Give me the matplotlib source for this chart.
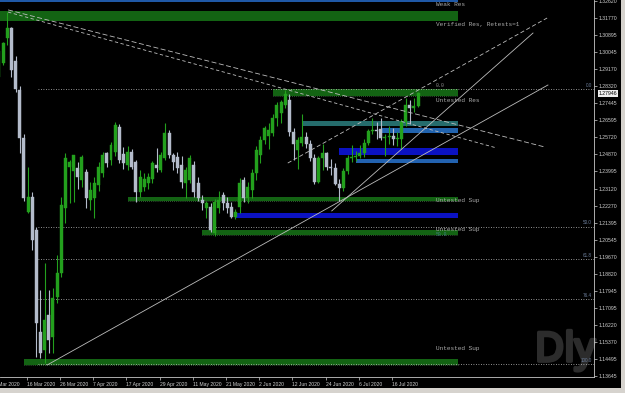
import numpy as np
import pandas as pd
import matplotlib
matplotlib.use("Agg")
import matplotlib.pyplot as plt
import matplotlib.transforms as mtransforms
import matplotlib.patheffects as pe
from matplotlib.patches import Rectangle

# ---- daily candles, 5 Mar 2020 .. 24 Jul 2020 (bar index 1 = 5 Mar) ----
dates = pd.bdate_range("2020-03-05", "2020-07-24")
opens = [1.2875, 1.2950, 1.3075, 1.3125, 1.2960, 1.2812, 1.2569, 1.2194, 1.2270, 1.2103,
         1.1587, 1.1496, 1.1673, 1.1562, 1.1764, 1.1886, 1.2215, 1.2420, 1.2400, 1.2417,
         1.2356, 1.2397, 1.2255, 1.2265, 1.2331, 1.2392, 1.2493, 1.2457, 1.2498, 1.2625,
         1.2490, 1.2432, 1.2498, 1.2447, 1.2296, 1.2320, 1.2340, 1.2360, 1.2432, 1.2407,
         1.2468, 1.2594, 1.2483, 1.2472, 1.2432, 1.2341, 1.2356, 1.2432, 1.2341, 1.2255,
         1.2215, 1.2220, 1.2088, 1.2215, 1.2280, 1.2240, 1.2220, 1.2170, 1.2220, 1.2356,
         1.2265, 1.2305, 1.2392, 1.2483, 1.2559, 1.2580, 1.2594, 1.2670, 1.2695, 1.2736,
         1.2760, 1.2600, 1.2510, 1.2545, 1.2575, 1.2540, 1.2470, 1.2345, 1.2470, 1.2495,
         1.2420, 1.2415, 1.2335, 1.2315, 1.2400, 1.2470, 1.2475, 1.2480, 1.2495, 1.2545,
         1.2605, 1.2610, 1.2615, 1.2570, 1.2575, 1.2580, 1.2565, 1.2565, 1.2650, 1.2735,
         1.2720, 1.2730]
highs = [1.3020, 1.3055, 1.3205, 1.3130, 1.2985, 1.2830, 1.2590, 1.2422, 1.2295, 1.2118,
         1.1800, 1.1936, 1.1800, 1.1810, 1.1977, 1.2270, 1.2493, 1.2460, 1.2485, 1.2445,
         1.2483, 1.2410, 1.2345, 1.2372, 1.2447, 1.2500, 1.2500, 1.2550, 1.2650, 1.2640,
         1.2525, 1.2530, 1.2515, 1.2460, 1.2407, 1.2390, 1.2390, 1.2450, 1.2520, 1.2500,
         1.2645, 1.2610, 1.2493, 1.2500, 1.2480, 1.2420, 1.2482, 1.2452, 1.2370, 1.2280,
         1.2250, 1.2240, 1.2260, 1.2300, 1.2295, 1.2270, 1.2245, 1.2210, 1.2368, 1.2372,
         1.2345, 1.2410, 1.2530, 1.2580, 1.2630, 1.2645, 1.2690, 1.2750, 1.2760, 1.2812,
         1.2790, 1.2620, 1.2575, 1.2690, 1.2600, 1.2560, 1.2490, 1.2480, 1.2540, 1.2500,
         1.2465, 1.2440, 1.2360, 1.2415, 1.2485, 1.2535, 1.2505, 1.2535, 1.2565, 1.2615,
         1.2670, 1.2650, 1.2670, 1.2590, 1.2630, 1.2620, 1.2600, 1.2665, 1.2770, 1.2760,
         1.2770, 1.2800]
lows = [1.2860, 1.2940, 1.3040, 1.2880, 1.2800, 1.2495, 1.2250, 1.2190, 1.2002, 1.1461,
        1.1456, 1.1430, 1.1481, 1.1481, 1.1734, 1.1866, 1.2139, 1.2240, 1.2245, 1.2310,
        1.2321, 1.2215, 1.2205, 1.2164, 1.2300, 1.2370, 1.2420, 1.2430, 1.2480, 1.2440,
        1.2410, 1.2405, 1.2410, 1.2245, 1.2270, 1.2300, 1.2310, 1.2340, 1.2397, 1.2395,
        1.2460, 1.2470, 1.2407, 1.2390, 1.2315, 1.2265, 1.2340, 1.2270, 1.2250, 1.2205,
        1.2165, 1.2093, 1.2075, 1.2190, 1.2205, 1.2190, 1.2165, 1.2160, 1.2190, 1.2245,
        1.2240, 1.2265, 1.2355, 1.2440, 1.2540, 1.2512, 1.2580, 1.2630, 1.2645, 1.2720,
        1.2580, 1.2460, 1.2410, 1.2530, 1.2520, 1.2450, 1.2335, 1.2340, 1.2405, 1.2405,
        1.2380, 1.2330, 1.2250, 1.2300, 1.2385, 1.2445, 1.2450, 1.2470, 1.2475, 1.2535,
        1.2590, 1.2565, 1.2560, 1.2480, 1.2540, 1.2535, 1.2530, 1.2515, 1.2630, 1.2640,
        1.2700, 1.2725]
closes = [1.3010, 1.3048, 1.3125, 1.2913, 1.2815, 1.2569, 1.2265, 1.2270, 1.2053, 1.1633,
          1.1481, 1.1648, 1.1547, 1.1759, 1.1886, 1.2230, 1.2468, 1.2445, 1.2482, 1.2372,
          1.2472, 1.2265, 1.2305, 1.2340, 1.2422, 1.2483, 1.2442, 1.2533, 1.2635, 1.2457,
          1.2440, 1.2498, 1.2422, 1.2296, 1.2372, 1.2360, 1.2370, 1.2440, 1.2417, 1.2483,
          1.2594, 1.2483, 1.2447, 1.2417, 1.2346, 1.2407, 1.2468, 1.2296, 1.2265, 1.2240,
          1.2240, 1.2103, 1.2245, 1.2255, 1.2240, 1.2215, 1.2170, 1.2195, 1.2341, 1.2265,
          1.2321, 1.2392, 1.2508, 1.2559, 1.2620, 1.2610, 1.2670, 1.2736, 1.2750, 1.2790,
          1.2600, 1.2540, 1.2560, 1.2575, 1.2540, 1.2470, 1.2345, 1.2470, 1.2495, 1.2420,
          1.2415, 1.2335, 1.2315, 1.2400, 1.2470, 1.2475, 1.2480, 1.2495, 1.2545, 1.2605,
          1.2610, 1.2605, 1.2570, 1.2575, 1.2580, 1.2565, 1.2570, 1.2650, 1.2735, 1.2720,
          1.2730, 1.2795]
current_price = 1.27946

# supply / demand zones: start bar, low, high, colour key
zone_start = [-5, -5, 67, 74, 93, 83, 87, 32, 58, 50, 7]
zone_low = [1.3255, 1.3161, 1.2781, 1.2630, 1.2594, 1.2483, 1.2442, 1.2250, 1.2164, 1.2078, 1.1420]
zone_high = [1.3300, 1.3211, 1.2817, 1.2655, 1.2620, 1.2518, 1.2463, 1.2270, 1.2189, 1.2103, 1.1451]
zone_kind = ["weak", "green", "green", "teal", "sky", "blue", "steel", "green", "blue", "green", "green"]
zone_end = 111.6
zone_labels = ["Weak Res", "Verified Res, Retests=1", "Untested Res", "Untested Sup",
               "Untested Sup", "Untested Sup"]
zone_label_prices = [1.3243, 1.3141, 1.2761, 1.2255, 1.2106, 1.1505]

# fibonacci levels
fib_names = ["0.0", "50.0", "61.8", "76.4", "100.0"]
fib_prices = [1.2817, 1.2121, 1.1957, 1.1754, 1.1425]
fib_start = 10.4

# trendlines
trend_x0 = [3.2, 3.2, 70.6, 12.6, 81.2]
trend_p0 = [1.3217, 1.3206, 1.2442, 1.1420, 1.2200]
trend_x1 = [132.6, 121.0, 133.1, 133.3, 129.7]
trend_p1 = [1.2523, 1.2518, 1.3176, 1.2837, 1.3100]
trend_style = [(0, (6, 3)), (0, (4, 3)), (0, (5, 3)), "-", "-"]

price_ticks = [1.32620, 1.31770, 1.30895, 1.30045, 1.29170, 1.28320, 1.27445, 1.26595,
               1.25720, 1.24870, 1.23995, 1.23120, 1.22270, 1.21395, 1.20545, 1.19670,
               1.18820, 1.17945, 1.17095, 1.16220, 1.15370, 1.14495, 1.13645]
date_ticks = ["4 Mar 2020", "16 Mar 2020", "26 Mar 2020", "7 Apr 2020", "17 Apr 2020",
              "29 Apr 2020", "11 May 2020", "21 May 2020", "2 Jun 2020", "12 Jun 2020",
              "24 Jun 2020", "6 Jul 2020", "16 Jul 2020"]

colors = {"weak": "#1f58a6", "green": "#136313", "teal": "#256c6c", "sky": "#2163ae",
          "blue": "#0b12c2", "steel": "#2262b0"}
BULL = "#23a01d"
BEAR = "#b4bccb"

fig = plt.figure(figsize=(6.25, 3.93), dpi=100, facecolor="black")
ax = fig.add_axes([0, 16 / 393, 594 / 625, 377 / 393])
ax.set_facecolor("black")

x = np.arange(1, len(dates) + 1)
o = np.array(opens); h = np.array(highs); l = np.array(lows); c = np.array(closes)

# zones
for s, lo, hi, k in zip(zone_start, zone_low, zone_high, zone_kind):
    ax.add_patch(Rectangle((s, lo), zone_end - s, hi - lo, facecolor=colors[k],
                           edgecolor="none", zorder=1))
for s, lo, k in zip(zone_start, zone_low, zone_kind):
    if k == "green" and s > 0:
        ax.hlines(lo, s, zone_end, colors="#5fa05f", linestyles=(0, (1, 2)), lw=0.5, zorder=1.5)

# fib lines
for p, n in zip(fib_prices, fib_names):
    ax.hlines(p, fib_start, 150, colors="#bfbfbf", linestyles=(0, (1, 2)), lw=0.6, zorder=2)
    ax.text(143.9, p + 0.0006, n, color="#6d7f9c", fontsize=3.3, ha="right", va="bottom",
            family="Liberation Sans", zorder=5)
ax.text(106.3, fib_prices[0] + 0.0006, fib_names[0], color="#8a8a8a", fontsize=3.6,
        ha="left", va="bottom", family="Liberation Mono", zorder=5)
ax.text(106.3, 1.2080, fib_names[1], color="#3f7f7f", fontsize=3.4,
        ha="left", va="center", family="Liberation Mono", zorder=5)

# candles
up = c >= o
wick_col = np.where(up, BULL, BEAR)
ax.vlines(x, l, h, colors=wick_col, lw=0.8, zorder=3)
body_lo = np.minimum(o, c)
body_h = np.maximum(np.abs(c - o), 0.0004)
ax.bar(x, body_h, bottom=body_lo, width=0.72, color=wick_col, edgecolor=wick_col,
       linewidth=0.3, zorder=4)

# trendlines
for x0, p0, x1, p1, st in zip(trend_x0, trend_p0, trend_x1, trend_p1, trend_style):
    ax.plot([x0, x1], [p0, p1], color="#bdbdbd", lw=0.6, linestyle=st, zorder=5)

# zone labels
for t, p in zip(zone_labels, zone_label_prices):
    ax.text(106.3, p, t, color="#a9a9a9", fontsize=4.4, family="Liberation Mono",
            ha="left", va="center", zorder=6)

# watermark
ax.text(0.951, 0.042, "Dly", transform=ax.transAxes, color="#2c2c2c", fontsize=29,
        fontweight="black", fontstretch="condensed", family=["Noto Sans", "DejaVu Sans"],
        ha="center", va="baseline", zorder=0.5,
        path_effects=[pe.withStroke(linewidth=2.5, foreground="#2c2c2c")])

ax.yaxis.tick_right()
ax.set_yticks(price_ticks, [f"{p:.5f}" for p in price_ticks])
tick_pos = np.arange(len(date_ticks)) * 8 - 0.3
ax.set_xticks(tick_pos[1:], date_ticks[1:])
for lbl in ax.get_xticklabels():
    lbl.set_ha("left")
ax.set_xlim(1.25, 144.4)
ax.set_ylim(1.13595, 1.32671)
ax.tick_params(axis="y", colors="#cfcfcf", labelsize=3.7, length=2, width=0.5, pad=1.5,
               direction="out")
ax.tick_params(axis="x", colors="#cfcfcf", labelsize=3.6, length=2, width=0.5, pad=1.5,
               direction="out")
for lbl in ax.get_xticklabels() + ax.get_yticklabels():
    lbl.set_family("Liberation Sans")
    lbl.set_color("#d0d0d0")
for s in ["top", "left"]:
    ax.spines[s].set_visible(False)
for s in ["right", "bottom"]:
    ax.spines[s].set_color("#c8c8c8")
    ax.spines[s].set_linewidth(0.6)

# first date label sits partly off the left edge
first_trans = mtransforms.offset_copy(
    mtransforms.blended_transform_factory(ax.transData, ax.transAxes), fig=fig, y=-3.5,
    units="points")
ax.text(tick_pos[0], 0, date_ticks[0], transform=first_trans, fontsize=3.6,
        color="#d0d0d0", family="Liberation Sans", ha="left", va="top", clip_on=False)

# current price tag
trans = mtransforms.blended_transform_factory(ax.transAxes, ax.transData)
ax.text(1.008, current_price, f"{current_price:.5f}", transform=trans, fontsize=3.7,
        color="black", family="Liberation Sans", ha="left", va="center",
        bbox=dict(facecolor="#eeeeee", edgecolor="none", pad=0.6), zorder=10, clip_on=False)

# terminal window frame
fig.patches.append(Rectangle((621 / 625, 0), 4 / 625, 1, transform=fig.transFigure,
                             facecolor="#d6d3ce", edgecolor="none"))
fig.patches.append(Rectangle((0, 0), 1, 5 / 393, transform=fig.transFigure,
                             facecolor="#d6d3ce", edgecolor="none"))

fig.savefig("out.png", dpi=100, facecolor="black")
